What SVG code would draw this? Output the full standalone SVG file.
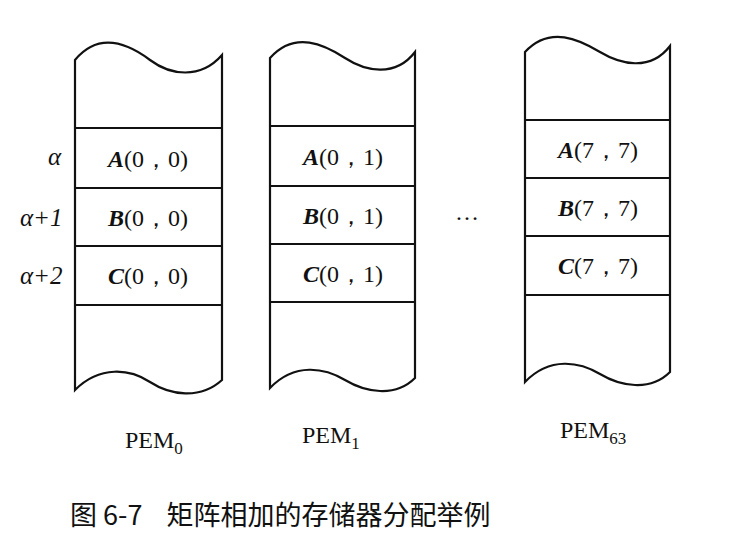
<svg xmlns="http://www.w3.org/2000/svg" width="739" height="539" viewBox="0 0 739 539">
<style>
.b{fill:none;stroke:#111;stroke-width:2.2}
.t{font-family:"Liberation Serif",serif;font-size:24px;fill:#111}
.i{font-style:italic;font-weight:bold}
.a{font-family:"Liberation Serif",serif;font-size:25px;font-style:italic;fill:#111}
.c{font-family:"Noto Sans CJK SC",sans-serif;font-size:27px;fill:#111}
</style>
<rect width="739" height="539" fill="#fff"/>
<g id="pem0">
<path class="b" d="M75 60 C100 30,130 45,150 60 S200 80,222 55 L222 380 C200 400,170 395,150 382 S100 365,75 390 Z"/>
<path class="b" d="M75 128H222M75 188H222M75 246H222M75 305H222"/>
<text class="t" x="148" y="167" text-anchor="middle"><tspan class="i">A</tspan>(0，0)</text>
<text class="t" x="148" y="226" text-anchor="middle"><tspan class="i">B</tspan>(0，0)</text>
<text class="t" x="148" y="284" text-anchor="middle"><tspan class="i">C</tspan>(0，0)</text>
<text class="t" x="125" y="448">PEM<tspan font-size="17" dy="6">0</tspan></text>
</g>
<g id="pem1">
<path class="b" d="M270 58 C295 30,325 45,345 58 S395 78,415 52 L415 378 C395 398,365 392,345 380 S295 362,270 388 Z"/>
<path class="b" d="M270 126H415M270 186H415M270 244H415M270 302H415"/>
<text class="t" x="343" y="165" text-anchor="middle"><tspan class="i">A</tspan>(0，1)</text>
<text class="t" x="343" y="224" text-anchor="middle"><tspan class="i">B</tspan>(0，1)</text>
<text class="t" x="343" y="282" text-anchor="middle"><tspan class="i">C</tspan>(0，1)</text>
<text class="t" x="302" y="443">PEM<tspan font-size="17" dy="6">1</tspan></text>
</g>
<g id="pem63">
<path class="b" d="M525 52 C550 25,580 40,600 52 S650 72,670 46 L670 372 C650 392,620 386,600 374 S550 356,525 382 Z"/>
<path class="b" d="M525 120H670M525 178H670M525 236H670M525 295H670"/>
<text class="t" x="598" y="158" text-anchor="middle"><tspan class="i">A</tspan>(7，7)</text>
<text class="t" x="598" y="216" text-anchor="middle"><tspan class="i">B</tspan>(7，7)</text>
<text class="t" x="598" y="274" text-anchor="middle"><tspan class="i">C</tspan>(7，7)</text>
<text class="t" x="560" y="438">PEM<tspan font-size="17" dy="6">63</tspan></text>
</g>
<g id="labels">
<text class="a" x="48" y="165">α</text>
<text class="a" x="20" y="226">α+1</text>
<text class="a" x="20" y="284">α+2</text>
<text class="t" x="455" y="220">…</text>
<text class="c" x="70" y="525" xml:space="preserve">图 6-7    矩阵相加的存储器分配举例</text>
</g>
</svg>
